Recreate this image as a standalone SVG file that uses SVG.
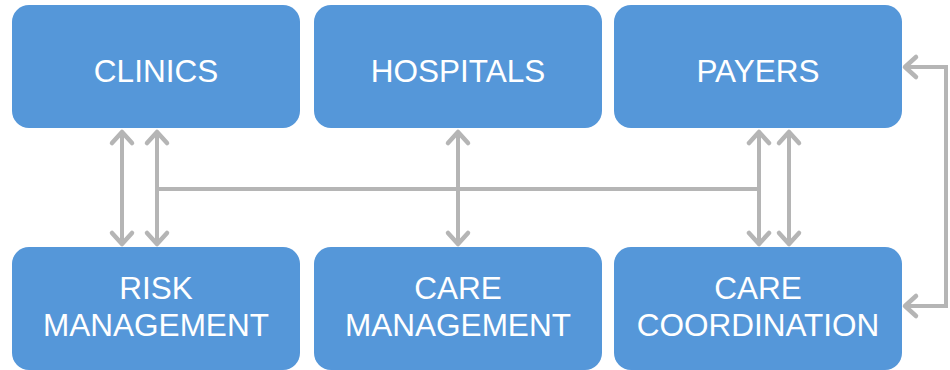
<svg xmlns="http://www.w3.org/2000/svg" width="950" height="370" viewBox="0 0 950 370">
<defs>
<marker id="ah" markerUnits="userSpaceOnUse" markerWidth="30" markerHeight="30" refX="14" refY="11" orient="auto-start-reverse" viewBox="0 0 30 22" overflow="visible">
<path d="M3,1 L14,11 L3,21" fill="none" stroke="#b5b5b5" stroke-width="4.5" stroke-linecap="round" stroke-linejoin="round"/>
</marker>
<style>
.box{fill:#5597d9;}
.t{font-family:"Liberation Sans",Arial,sans-serif;font-size:31.5px;fill:#ffffff;text-anchor:middle;}
.c{fill:none;stroke:#b5b5b5;stroke-width:4;}
</style>
</defs>
<rect width="950" height="370" fill="#ffffff"/>
<g id="connectors">
<line class="c" x1="122" y1="132" x2="122" y2="244" marker-start="url(#ah)" marker-end="url(#ah)"/>
<line class="c" x1="157" y1="132" x2="157" y2="244" marker-start="url(#ah)" marker-end="url(#ah)"/>
<line class="c" x1="458" y1="132" x2="458" y2="244" marker-start="url(#ah)" marker-end="url(#ah)"/>
<line class="c" x1="759" y1="132" x2="759" y2="244" marker-start="url(#ah)" marker-end="url(#ah)"/>
<line class="c" x1="789" y1="132" x2="789" y2="244" marker-start="url(#ah)" marker-end="url(#ah)"/>
<line class="c" x1="157" y1="189" x2="759" y2="189"/>
<polyline class="c" points="905,67 946,67 946,306 905,306" marker-start="url(#ah)" marker-end="url(#ah)"/>
</g>
<g id="clinics"><rect class="box" x="12" y="5" width="288" height="123" rx="17"/><text class="t" x="156" y="82">CLINICS</text></g>
<g id="hospitals"><rect class="box" x="314" y="5" width="288" height="123" rx="17"/><text class="t" x="458" y="82">HOSPITALS</text></g>
<g id="payers"><rect class="box" x="614" y="5" width="288" height="123" rx="17"/><text class="t" x="758" y="82">PAYERS</text></g>
<g id="risk"><rect class="box" x="12" y="247" width="288" height="123" rx="17"/><text class="t" x="156" y="299">RISK</text><text class="t" x="156" y="336">MANAGEMENT</text></g>
<g id="caremgmt"><rect class="box" x="314" y="247" width="288" height="123" rx="17"/><text class="t" x="458" y="299">CARE</text><text class="t" x="458" y="336">MANAGEMENT</text></g>
<g id="carecoord"><rect class="box" x="614" y="247" width="288" height="123" rx="17"/><text class="t" x="758" y="299">CARE</text><text class="t" x="758" y="336">COORDINATION</text></g>
</svg>
